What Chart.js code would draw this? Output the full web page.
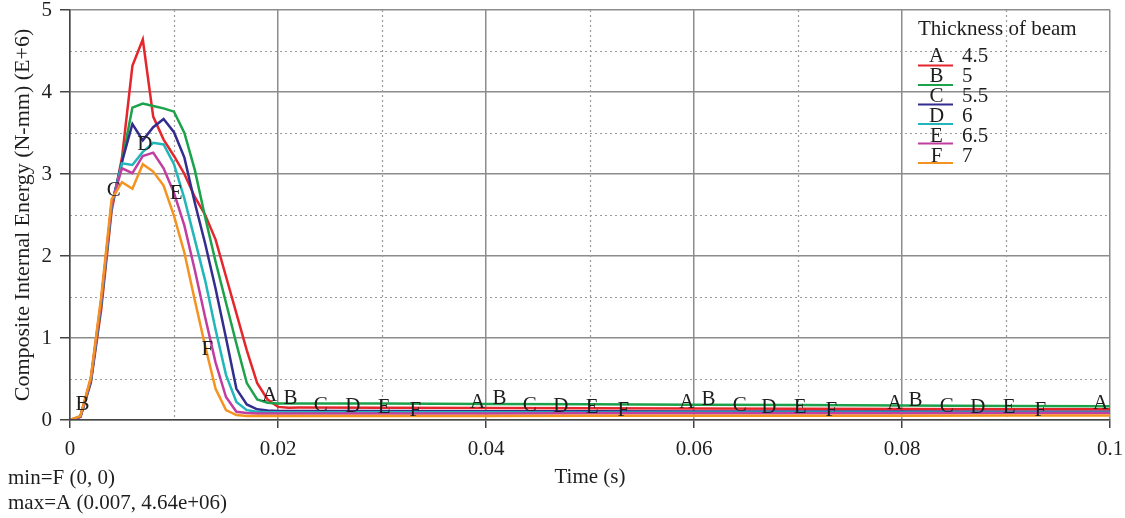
<!DOCTYPE html>
<html><head><meta charset="utf-8">
<script src="https://cdn.jsdelivr.net/npm/chart.js@4.4.1/dist/chart.umd.min.js"></script>
<style>html,body{margin:0;padding:0;background:#fff;}#wrap{width:1125px;height:518px;}</style>
</head><body><div id="wrap"><canvas id="c" width="1125" height="518"></canvas></div>
<script>
// ---- data (energy in E+6 N-mm, time in s) ----
const time = [0,0.001,0.002,0.003,0.004,0.005,0.006,0.007,0.008,0.009,0.010,0.011,0.012,0.013,0.014,0.015,0.016,0.017,0.018,0.019,0.020,0.021,0.022,0.03,0.04,0.05,0.06,0.07,0.08,0.09,0.1];
const seriesA = [0,0.04,0.45,1.35,2.55,3.2,4.32,4.64,3.7,3.42,3.22,3.0,2.72,2.5,2.2,1.75,1.3,0.85,0.45,0.25,0.16,0.15,0.152,0.15,0.147,0.144,0.141,0.138,0.135,0.132,0.13];
const seriesB = [0,0.04,0.47,1.4,2.6,3.15,3.81,3.86,3.83,3.8,3.76,3.5,3.05,2.47,1.93,1.43,0.93,0.45,0.25,0.21,0.2,0.2,0.2,0.2,0.196,0.192,0.187,0.182,0.177,0.172,0.167];
const seriesC = [0,0.04,0.48,1.42,2.62,3.15,3.61,3.41,3.57,3.67,3.51,3.2,2.65,2.15,1.6,1.0,0.38,0.19,0.13,0.115,0.11,0.11,0.11,0.11,0.108,0.106,0.105,0.104,0.103,0.102,0.1];
const seriesD = [0,0.04,0.49,1.44,2.62,3.13,3.11,3.27,3.38,3.36,3.12,2.7,2.2,1.7,1.1,0.55,0.22,0.12,0.1,0.095,0.095,0.095,0.095,0.094,0.093,0.092,0.091,0.09,0.09,0.09,0.09];
const seriesE = [0,0.04,0.5,1.46,2.64,3.07,3.01,3.22,3.26,3.07,2.77,2.37,1.83,1.25,0.7,0.28,0.1,0.085,0.08,0.08,0.08,0.08,0.08,0.08,0.08,0.081,0.082,0.082,0.083,0.084,0.085];
const seriesF = [0,0.05,0.52,1.5,2.69,2.9,2.82,3.12,3.03,2.86,2.49,2.04,1.46,0.9,0.38,0.12,0.06,0.05,0.05,0.05,0.05,0.05,0.05,0.05,0.05,0.051,0.052,0.053,0.053,0.054,0.055];

const seriesLetters = ['A','B','C','D','E','F'];
const thicknessLabels = ['4.5','5','5.5','6','6.5','7'];
const markerTimesA = [0.0192,0.0392,0.0593,0.0793,0.0991];
const markerTimesB = [0.0012,0.0212,0.0413,0.0614,0.0813];
const markerTimesC = [0.0042,0.0241,0.0442,0.0644,0.0843];
const markerTimesD = [0.0072,0.0272,0.0472,0.0672,0.0873];
const markerTimesE = [0.0102,0.0302,0.0502,0.0702,0.0903];
const markerTimesF = [0.0132,0.0332,0.0532,0.0732,0.0933];

const xTickLabels = ['0','0.02','0.04','0.06','0.08','0.1'];
const yTickLabels = ['0','1','2','3','4','5'];
const legendTitle = 'Thickness of beam';
const minText = 'min=F (0, 0)';
const maxText = 'max=A (0.007, 4.64e+06)';

// ---- styling ----
const colors = ['#e5262b','#1ca24a','#322d8e','#21b6b9','#c13d9f','#f49320'];
const allSeries = [seriesA,seriesB,seriesC,seriesD,seriesE,seriesF];
const allMarkers = [markerTimesA,markerTimesB,markerTimesC,markerTimesD,markerTimesE,markerTimesF];
const FONT = '"Liberation Serif", "DejaVu Serif", serif';
const textColor = '#1e1e1e';

function interp(xs, ys, t){
  for (let i=0;i<xs.length-1;i++){
    if (t>=xs[i] && t<=xs[i+1]){
      const f=(t-xs[i])/(xs[i+1]-xs[i]);
      return ys[i]+f*(ys[i+1]-ys[i]);
    }
  }
  return ys[ys.length-1];
}

const datasets = allSeries.map((s,i)=>({
  label: seriesLetters[i]+' '+thicknessLabels[i],
  data: time.map((t,j)=>({x:t,y:s[j]})),
  borderColor: colors[i],
  backgroundColor: colors[i],
  borderWidth: 2.5,
  pointRadius: 0,
  tension: 0,
  fill: false,
  order: 5-i
}));

const extras = {
  id:'extras',
  beforeDatasetsDraw(chart){
    const {ctx, chartArea:a, scales:{x,y}} = chart;
    ctx.save();
    ctx.strokeStyle = '#9a9a9a';
    ctx.lineWidth = 1.2;
    ctx.setLineDash([2,3]);
    x.ticks.forEach((tk,i)=>{ if(i%2===1){ const px=Math.round(x.getPixelForValue(tk.value))+0.5; ctx.beginPath(); ctx.moveTo(px,a.top); ctx.lineTo(px,a.bottom); ctx.stroke(); }});
    y.ticks.forEach((tk,i)=>{ if(i%2===1){ const py=Math.round(y.getPixelForValue(tk.value))+0.5; ctx.beginPath(); ctx.moveTo(a.left,py); ctx.lineTo(a.right,py); ctx.stroke(); }});
    ctx.restore();
  },
  afterDatasetsDraw(chart){
    const {ctx, scales:{x,y}} = chart;
    ctx.save();
    ctx.font = '21px '+FONT;
    ctx.fillStyle = textColor;
    ctx.textAlign = 'center';
    ctx.textBaseline = 'alphabetic';
    allMarkers.forEach((arr,i)=>{
      arr.forEach(t=>{
        const v = interp(time, allSeries[i], t);
        ctx.fillText(seriesLetters[i], x.getPixelForValue(t), y.getPixelForValue(v));
      });
    });
    ctx.restore();
  },
  afterDraw(chart){
    const {ctx, chartArea:a} = chart;
    ctx.save();
    ctx.fillStyle = textColor;
    ctx.font = '21px '+FONT;
    ctx.textBaseline = 'alphabetic';
    // legend
    const lx = a.right - 192;
    ctx.textAlign = 'left';
    ctx.fillText(legendTitle, lx, a.top + 25);
    seriesLetters.forEach((L,i)=>{
      const base = a.top + 52 + 20*i;
      ctx.textAlign = 'center';
      ctx.fillText(L, lx + 18.5, base);
      ctx.textAlign = 'left';
      ctx.fillText(thicknessLabels[i], lx + 44, base);
      ctx.strokeStyle = colors[i];
      ctx.lineWidth = 2;
      ctx.beginPath();
      const ly = a.top + 55.5 + 19.5*i;
      ctx.moveTo(lx, ly); ctx.lineTo(lx+35, ly); ctx.stroke();
    });
    // min / max notes
    ctx.textAlign = 'left';
    ctx.fillText(minText, 8, 484);
    ctx.fillText(maxText, 8, 509);
    ctx.restore();
  }
};

new Chart(document.getElementById('c'), {
  type:'line',
  data:{datasets},
  options:{
    responsive:false,
    animation:false,
    devicePixelRatio:1,
    layout:{padding:{left:0,right:0,top:0,bottom:30}},
    plugins:{legend:{display:false},tooltip:{enabled:false}},
    scales:{
      x:{
        type:'linear', min:0, max:0.1,
        afterFit(s){ s.height = 68; s.paddingLeft = 0; s.paddingRight = 15; },
        ticks:{stepSize:0.01, autoSkip:false, maxRotation:0, padding:11, color:textColor,
          font:{family:FONT,size:21,lineHeight:1},
          callback:(v,i)=> i%2===0 ? xTickLabels[i/2] : ''},
        grid:{
          color:c=> c.index%2===0 ? '#8c8c8c' : 'rgba(0,0,0,0)',
          lineWidth:1.5,
          tickColor:c=> c.index%2===0 ? '#444' : 'rgba(0,0,0,0)',
          tickLength:8
        },
        border:{display:true,color:'#444',width:1.5,z:1},
        title:{display:true,text:'Time (s)',color:textColor,font:{family:FONT,size:21,lineHeight:1},padding:{top:0,bottom:0}}
      },
      y:{
        type:'linear', min:0, max:5,
        afterFit(s){ s.width = 70; s.paddingTop = 10; s.paddingBottom = 0; },
        ticks:{stepSize:0.5, autoSkip:false, padding:8, color:textColor,
          font:{family:FONT,size:21,lineHeight:1},
          callback:(v,i)=> i%2===0 ? yTickLabels[i/2] : ''},
        grid:{
          color:c=> c.index%2===0 ? '#8c8c8c' : 'rgba(0,0,0,0)',
          lineWidth:1.5,
          tickColor:c=> c.index%2===0 ? '#444' : 'rgba(0,0,0,0)',
          tickLength:10
        },
        border:{display:true,color:'#444',width:1.5,z:1},
        title:{display:true,text:'Composite Internal Energy (N-mm) (E+6)',color:textColor,font:{family:FONT,size:22,lineHeight:1},padding:{top:12,bottom:0}}
      }
    }
  },
  plugins:[extras]
});
</script></body></html>
